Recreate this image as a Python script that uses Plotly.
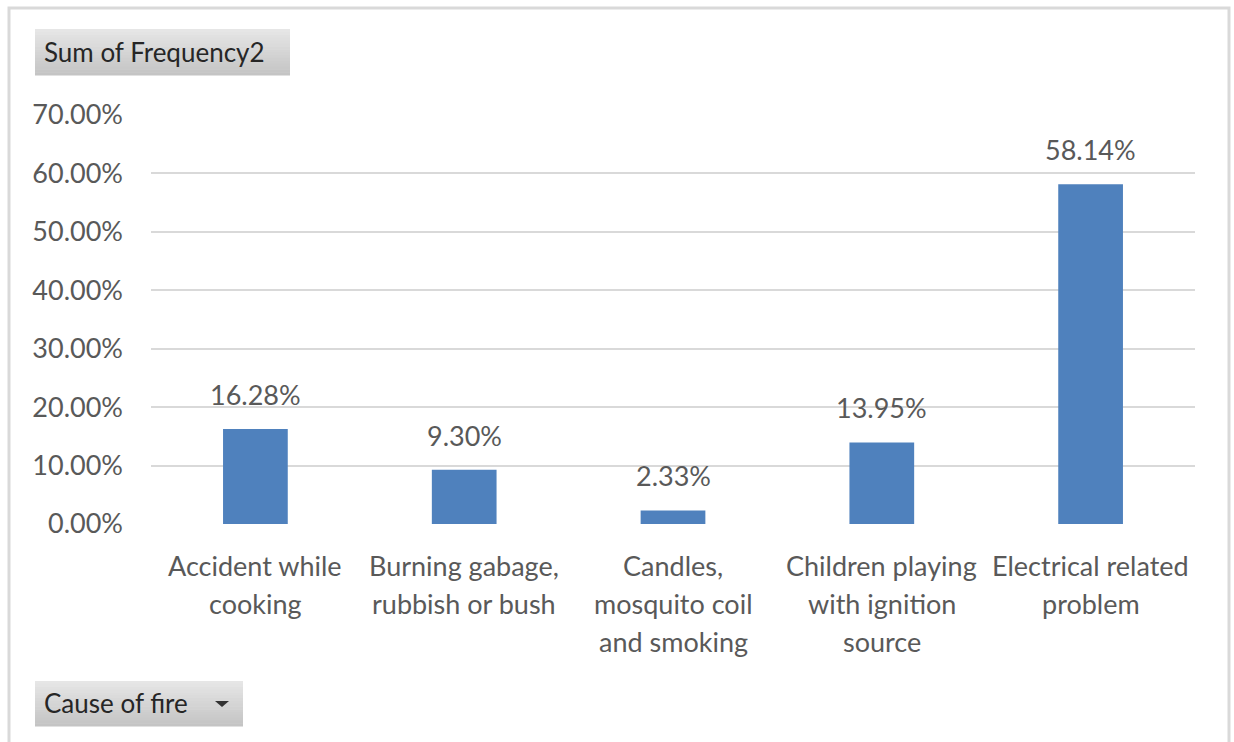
import plotly.graph_objects as go

categories = [
    "Accident while<br>cooking",
    "Burning gabage,<br>rubbish or bush",
    "Candles,<br>mosquito coil<br>and smoking",
    "Children playing<br>with ignition<br>source",
    "Electrical related<br>problem",
]
values = [16.28, 9.30, 2.33, 13.95, 58.14]
y_ticks = [0, 10, 20, 30, 40, 50, 60, 70]
field_label = "Sum of Frequency2"
axis_field_label = "Cause of fire"

W, H = 1234, 742
L, R, T, B = 151, 39, 115, 218
PW, PH = W - L - R, H - T - B
FONT = "Lato"
GRAY = "#595959"
FS = 27


def px(x):
    return (x - L) / PW


def py(y):
    return (H - B - y) / PH


fig = go.Figure()
fig.add_trace(go.Bar(
    x=list(range(len(categories))), y=values,
    marker=dict(color="#4f81bd", line=dict(width=0)),
    hoverinfo="skip",
))

annotations = []
for i, v in enumerate(values):
    annotations.append(dict(
        x=i, y=v, xref="x", yref="y", text=f"{v:.2f}%", showarrow=False,
        yanchor="bottom", yshift=16, font=dict(family=FONT, size=FS, color=GRAY),
    ))
for i, lab in enumerate(categories):
    for j, line in enumerate(lab.split("<br>")):
        annotations.append(dict(
            x=i, y=0, xref="x", yref="y", text=line, showarrow=False,
            yanchor="middle", yshift=-(41 + 38 * j),
            font=dict(family=FONT, size=FS, color=GRAY),
        ))

shapes = []
# outer frame
shapes.append(dict(type="rect", xref="paper", yref="paper",
                   x0=px(9), x1=px(1229), y0=py(780), y1=py(8),
                   line=dict(color="#d9d9d9", width=3), fillcolor="rgba(0,0,0,0)", layer="below"))


def button(x0, y0, x1, y1):
    n = 16
    top = (0xe6, 0xe6, 0xe6)
    bot = (0xc4, 0xc4, 0xc4)
    h = (y1 - y0) / n
    for k in range(n):
        t = k / (n - 1)
        c = tuple(int(round(top[m] + (bot[m] - top[m]) * t)) for m in range(3))
        shapes.append(dict(type="rect", xref="paper", yref="paper",
                           x0=px(x0), x1=px(x1), y0=py(y0 + (k + 1) * h + 0.5), y1=py(y0 + k * h),
                           line=dict(width=0), fillcolor="rgb(%d,%d,%d)" % c, layer="above"))


button(35, 29, 290, 75)
button(35, 681, 243, 726)
annotations.append(dict(x=px(42), y=py(52), xref="paper", yref="paper", text=field_label,
                        showarrow=False, xanchor="left", yanchor="middle",
                        font=dict(family=FONT, size=26, color="#262626")))
annotations.append(dict(x=px(42), y=py(703), xref="paper", yref="paper", text=axis_field_label,
                        showarrow=False, xanchor="left", yanchor="middle",
                        font=dict(family=FONT, size=26, color="#262626")))
shapes.append(dict(type="path", xref="paper", yref="paper",
                   path=f"M {px(215)} {py(701)} L {px(229)} {py(701)} L {px(222)} {py(707)} Z",
                   fillcolor="#333333", line=dict(width=0), layer="above"))

fig.update_layout(
    width=W, height=H,
    margin=dict(l=L, r=R, t=T, b=B, autoexpand=False),
    paper_bgcolor="white", plot_bgcolor="white",
    showlegend=False, bargap=0.69,
    font=dict(family=FONT, color=GRAY),
    annotations=annotations, shapes=shapes,
    xaxis=dict(range=[-0.5, len(categories) - 0.5], showticklabels=False, showgrid=False,
               zeroline=False, showline=False, ticks=""),
    yaxis=dict(range=[0, 70], tickmode="array", tickvals=y_ticks,
               ticktext=[f"{v:.2f}%" for v in y_ticks],
               showgrid=True, gridcolor="#d9d9d9", gridwidth=2, zeroline=False,
               showline=False, ticks="", ticklabelstandoff=27,
               tickfont=dict(family=FONT, size=FS, color=GRAY)),
)

fig.write_html("out.html")
